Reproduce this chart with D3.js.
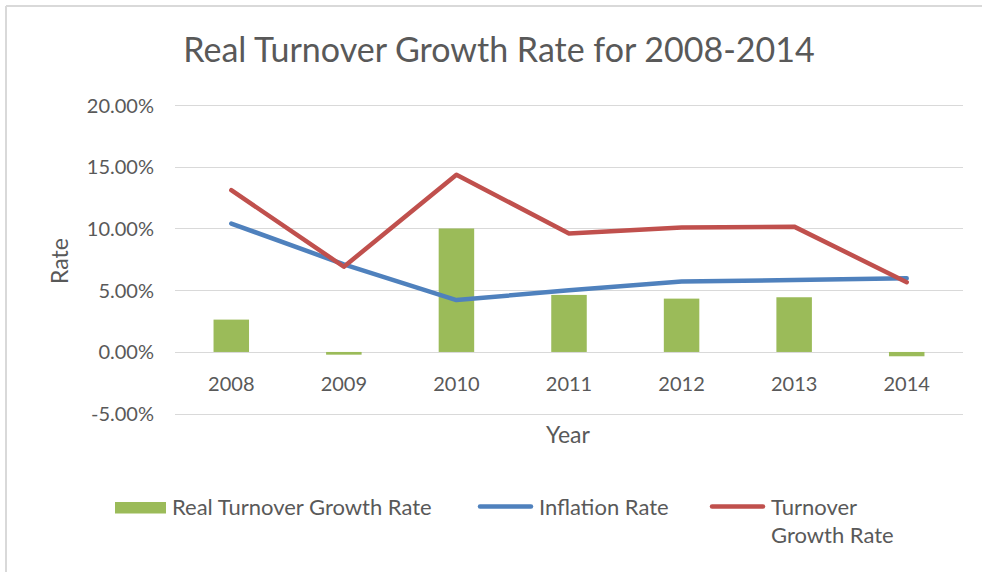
<!DOCTYPE html>
<html>
<head>
<meta charset="utf-8">
<script src="https://cdn.jsdelivr.net/npm/d3@7"></script>
<style>
  body { margin: 0; background: #fff; }
  svg text { font-family: Lato, "Open Sans", sans-serif; fill: #595959; }
</style>
</head>
<body>
<svg width="982" height="572"></svg>
<script>
var years = ["2008", "2009", "2010", "2011", "2012", "2013", "2014"];
var realGrowth = [0.0262, -0.0022, 0.1000, 0.0462, 0.0432, 0.0443, -0.0035];
var inflation = [0.1040, 0.0710, 0.0420, 0.0500, 0.0570, 0.0583, 0.0597];
var turnoverGrowth = [0.1310, 0.0690, 0.1435, 0.0960, 0.1007, 0.1015, 0.0565];
var yTicks = [-0.05, 0, 0.05, 0.10, 0.15, 0.20];

var svg = d3.select("svg");

// frame (only top and left edges show)
svg.append("line").attr("x1", 6).attr("x2", 982).attr("y1", 6).attr("y2", 6)
    .attr("stroke", "#d9d9d9").attr("stroke-width", 2);
svg.append("line").attr("x1", 6).attr("x2", 6).attr("y1", 6).attr("y2", 572)
    .attr("stroke", "#d9d9d9").attr("stroke-width", 2);

var x = d3.scaleBand().domain(years).range([175, 963]);
var y = d3.scaleLinear().domain([-0.05, 0.20]).range([413.7, 105]);

// percent labels with a plain hyphen, like Excel
var pct = function (d) { return d3.format(".2%")(d).replace("\u2212", "-"); };

// gridlines
svg.append("g").selectAll("line")
    .data(yTicks)
    .enter().append("line")
    .attr("x1", 175).attr("x2", 963)
    .attr("y1", function (d) { return Math.round(y(d)) + 0.5; })
    .attr("y2", function (d) { return Math.round(y(d)) + 0.5; })
    .attr("stroke", "#d9d9d9").attr("stroke-width", 1);

// y tick labels
svg.append("g").selectAll("text")
    .data(yTicks)
    .enter().append("text")
    .attr("x", 154)
    .attr("y", function (d) { return y(d) + 7.5; })
    .attr("text-anchor", "end")
    .style("font-size", "20px")
    .text(pct);

// bars
var bw = 35.5;
svg.append("g").selectAll("rect")
    .data(realGrowth)
    .enter().append("rect")
    .attr("x", function (d, i) { return x(years[i]) + x.bandwidth() / 2 - bw / 2; })
    .attr("y", function (d) { return y(Math.max(0, d)); })
    .attr("width", bw)
    .attr("height", function (d) { return Math.abs(y(d) - y(0)); })
    .attr("fill", "#9bbb59");

var line = d3.line()
    .x(function (d, i) { return x(years[i]) + x.bandwidth() / 2; })
    .y(function (d) { return y(d); });

svg.append("path").datum(inflation)
    .attr("d", line).attr("fill", "none")
    .attr("stroke", "#4f81bd").attr("stroke-width", 4.5)
    .attr("stroke-linejoin", "round").attr("stroke-linecap", "round");

svg.append("path").datum(turnoverGrowth)
    .attr("d", line).attr("fill", "none")
    .attr("stroke", "#c0504d").attr("stroke-width", 4.5)
    .attr("stroke-linejoin", "round").attr("stroke-linecap", "round");

// x labels
svg.append("g").selectAll("text")
    .data(years)
    .enter().append("text")
    .attr("x", function (d) { return x(d) + x.bandwidth() / 2; })
    .attr("y", 391)
    .attr("text-anchor", "middle")
    .style("font-size", "20px")
    .text(function (d) { return d; });

// titles
svg.append("text").attr("x", 499).attr("y", 62)
    .attr("text-anchor", "middle").style("font-size", "34px")
    .text("Real Turnover Growth Rate for 2008-2014");

svg.append("text").attr("x", 568).attr("y", 443)
    .attr("text-anchor", "middle").style("font-size", "23px")
    .text("Year");

svg.append("text")
    .attr("transform", "translate(68,261) rotate(-90)")
    .attr("text-anchor", "middle").style("font-size", "23px")
    .text("Rate");

// legend
var legend = svg.append("g");
legend.append("rect").attr("x", 115).attr("y", 502).attr("width", 51).attr("height", 11.5)
    .attr("fill", "#9bbb59");
legend.append("text").attr("x", 172).attr("y", 515).style("font-size", "22px")
    .text("Real Turnover Growth Rate");
legend.append("line").attr("x1", 480).attr("x2", 531).attr("y1", 506.5).attr("y2", 506.5)
    .attr("stroke", "#4f81bd").attr("stroke-width", 4.5).attr("stroke-linecap", "round");
legend.append("text").attr("x", 539).attr("y", 515).style("font-size", "22px")
    .text("Inflation Rate");
legend.append("line").attr("x1", 712).attr("x2", 763).attr("y1", 506.5).attr("y2", 506.5)
    .attr("stroke", "#c0504d").attr("stroke-width", 4.5).attr("stroke-linecap", "round");
legend.append("text").attr("x", 771).attr("y", 515).style("font-size", "22px")
    .text("Turnover");
legend.append("text").attr("x", 771).attr("y", 543).style("font-size", "22px")
    .text("Growth Rate");
</script>
</body>
</html>
